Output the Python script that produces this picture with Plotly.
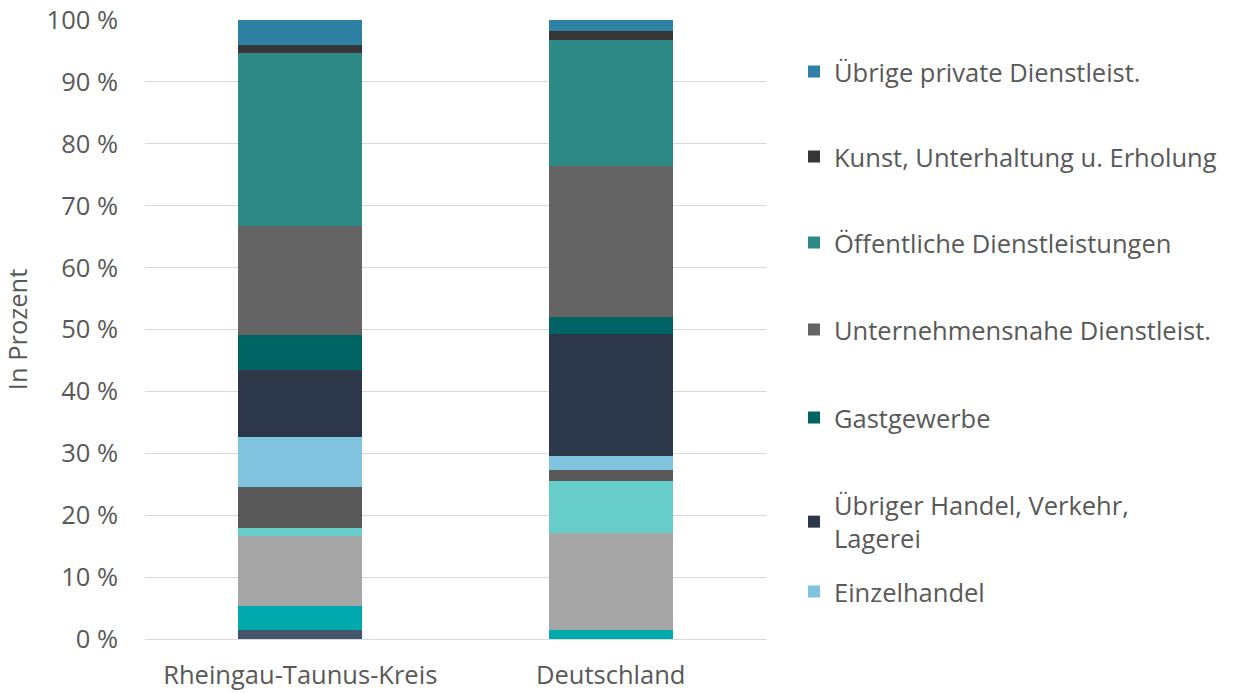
import plotly.graph_objects as go

categories = ["Rheingau-Taunus-Kreis", "Deutschland"]

# series listed bottom to top of the stack
series_names = [
    "Land- und Forstwirtschaft",
    "Energie, Wasser, Bergbau",
    "Verarbeitendes Gewerbe",
    "Baugewerbe",
    "Kfz-Handel",
    "Einzelhandel",
    "Übriger Handel, Verkehr,<br>Lagerei",
    "Gastgewerbe",
    "Unternehmensnahe Dienstleist.",
    "Öffentliche Dienstleistungen",
    "Kunst, Unterhaltung u. Erholung",
    "Übrige private Dienstleist.",
]
land = [1.5, 0.0]
energie = [3.9, 1.45]
verarbeitend = [11.3, 15.6]
bau = [1.2, 8.4]
kfz = [6.6, 1.8]
einzelhandel = [8.2, 2.25]
uebriger_handel = [10.8, 19.75]
gastgewerbe = [5.6, 2.85]
unternehmensnah = [17.7, 24.35]
oeffentlich = [27.9, 20.3]
kunst = [1.3, 1.45]
uebrige_private = [4.0, 1.8]
series_values = [land, energie, verarbeitend, bau, kfz, einzelhandel,
                 uebriger_handel, gastgewerbe, unternehmensnah, oeffentlich,
                 kunst, uebrige_private]

y_tickvals = [0, 10, 20, 30, 40, 50, 60, 70, 80, 90, 100]
y_ticktext = ["0 %", "10 %", "20 %", "30 %", "40 %", "50 %",
              "60 %", "70 %", "80 %", "90 %", "100 %"]

colors = ["#44546a", "#00a9ad", "#a6a6a6", "#66cdca", "#595959", "#80c3de",
          "#2c3849", "#006465", "#646464", "#2e8a87", "#363636", "#2e80a4"]

W, H = 1234, 693

# legend placement (only the upper seven series are shown in the legend)
legend_rows = {  # series index -> (legend id, pixel y of centre)
    11: ("legend", 72),
    10: ("legend2", 157),
    9: ("legend3", 243),
    8: ("legend4", 330),
    7: ("legend5", 418),
    6: ("legend6", 522),
    5: ("legend7", 592),
}

FONT = "Open Sans"
TXT = "#595959"
FS = 25.5

fig = go.Figure()
for i, (name, vals, col) in enumerate(zip(series_names, series_values, colors)):
    kw = {}
    if i in legend_rows:
        kw["legend"] = legend_rows[i][0]
        kw["showlegend"] = True
    else:
        kw["showlegend"] = False
    fig.add_trace(go.Bar(x=categories, y=vals, name=name,
                         marker=dict(color=col, line=dict(width=0)), **kw))

layout_legends = {}
for i, (lid, py) in legend_rows.items():
    layout_legends[lid] = dict(
        xref="container", yref="container",
        x=794 / W, y=1 - py / H, xanchor="left", yanchor="middle",
        font=dict(family=FONT, size=FS, color=TXT),
        bgcolor="rgba(0,0,0,0)", borderwidth=0, itemwidth=30,
    )

plot_left, plot_right, plot_top, plot_bottom = 145, 766, 19.5, 639

fig.update_layout(
    barmode="stack",
    bargap=0.6,
    width=W, height=H,
    plot_bgcolor="white", paper_bgcolor="white",
    margin=dict(l=plot_left, r=W - plot_right,
                t=plot_top, b=H - plot_bottom, autoexpand=False),
    font=dict(family=FONT, size=FS, color=TXT),
    xaxis=dict(showgrid=False, zeroline=False, showline=False, ticks="",
               ticklabelstandoff=18, automargin=False,
               tickfont=dict(family=FONT, size=FS, color=TXT)),
    yaxis=dict(range=[0, 100], tickmode="array", tickvals=y_tickvals,
               ticktext=y_ticktext, ticklabeloverflow="allow",
               showgrid=True, gridcolor="#d9d9d9", gridwidth=1.3,
               zeroline=True, zerolinecolor="#d9d9d9", zerolinewidth=1.3,
               showline=False, ticks="", ticklabelstandoff=26, automargin=False,
               tickfont=dict(family=FONT, size=FS, color=TXT),
               title=dict(text="In Prozent", standoff=18,
                          font=dict(family=FONT, size=FS, color=TXT))),
    **layout_legends,
)

fig.write_html("out.html",
               config={"displayModeBar": False},
               post_script="document.body.style.margin='0';"
                           "document.body.style.overflow='hidden';")
